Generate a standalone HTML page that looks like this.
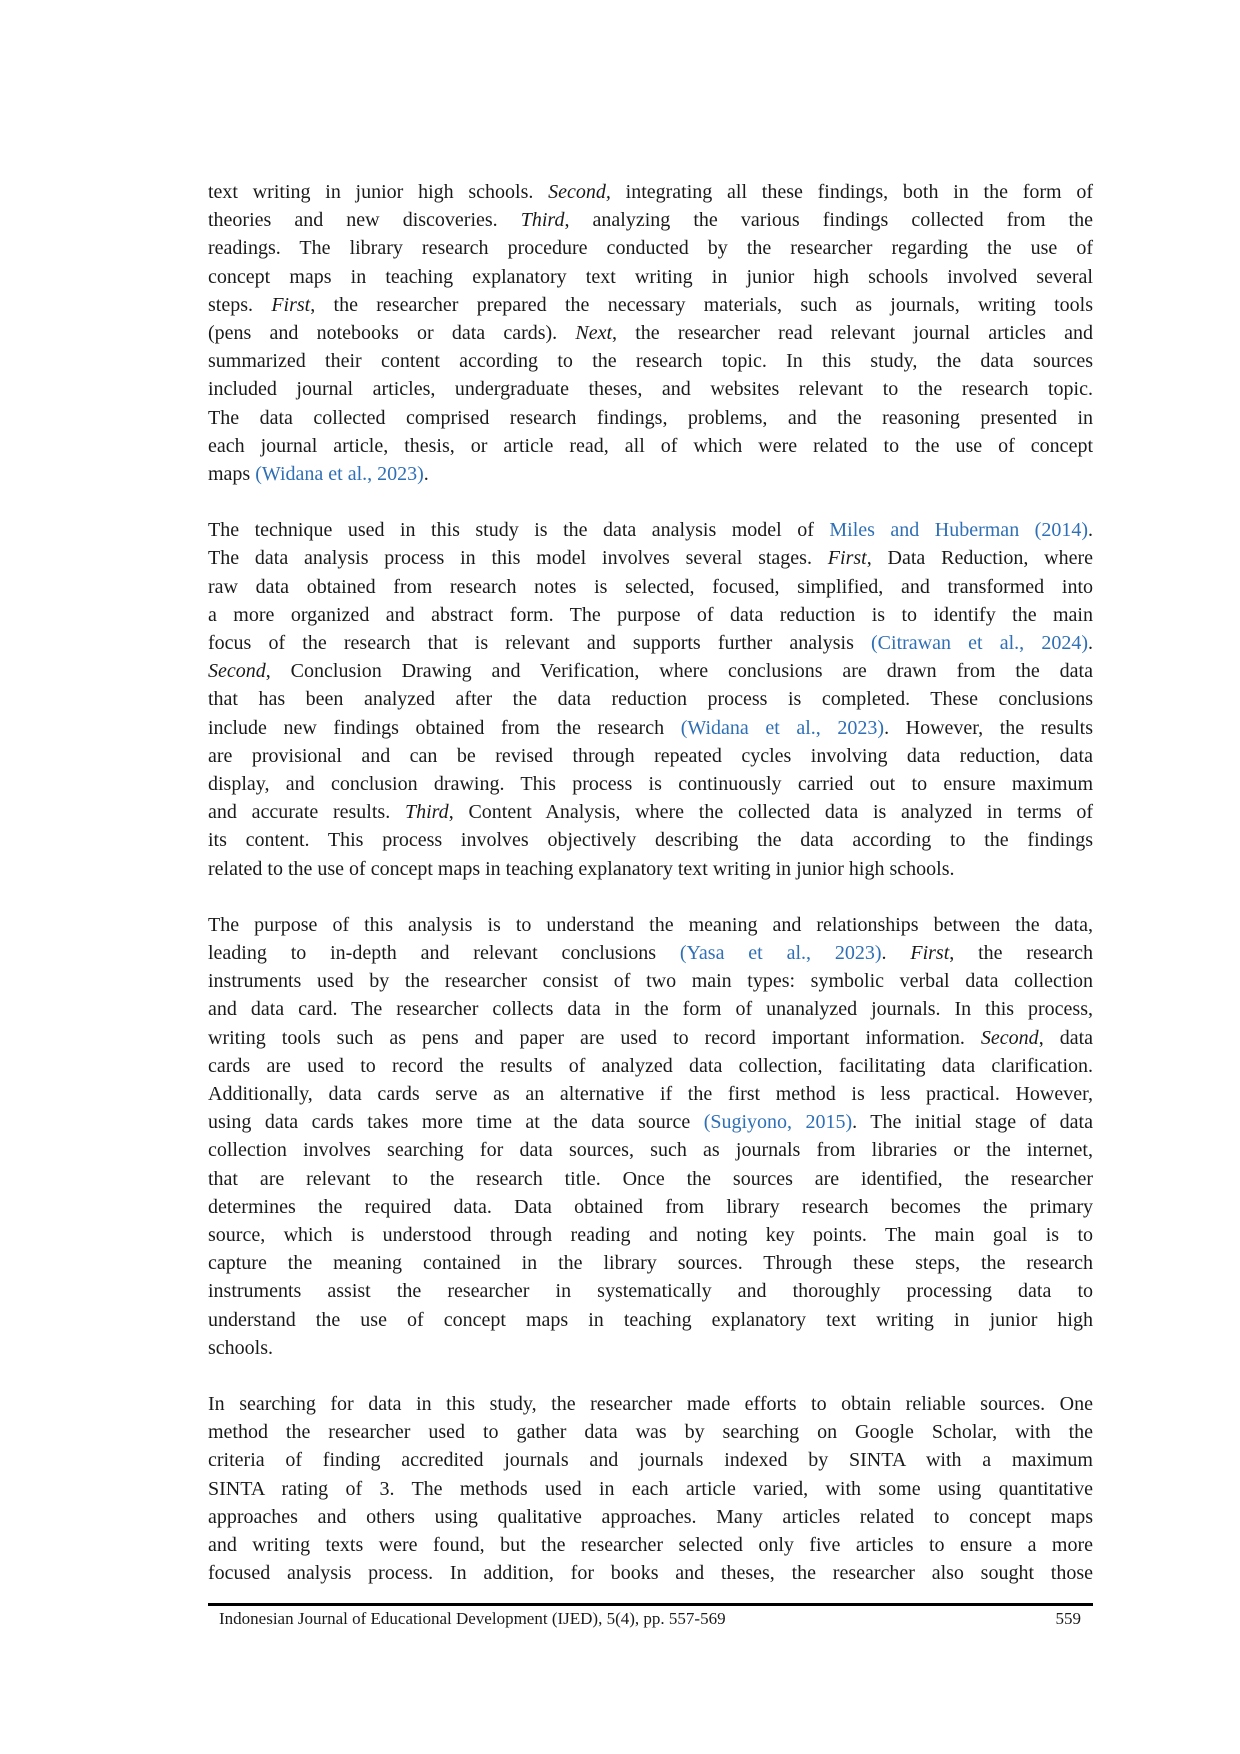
<!DOCTYPE html>
<html><head><meta charset="utf-8"><style>
html,body{margin:0;padding:0;background:#fff;}
body{width:1240px;height:1754px;position:relative;font-family:"Liberation Serif",serif;color:#1a1a1a;}
#t{position:absolute;left:208px;top:178px;width:885px;font-size:20px;}
.l{height:28.2px;line-height:28.2px;text-align:justify;text-align-last:justify;white-space:nowrap;}
.e{text-align-last:left;}
.b{height:28.2px;}
.c{color:#2f6fb5;}
#rule{position:absolute;left:208px;top:1603px;width:885px;height:3px;background:#000;}
#foot{position:absolute;left:219px;top:1609px;width:862px;font-size:17px;line-height:20px;}
#foot span{position:absolute;right:0;top:0;}
</style></head><body>
<div id="t">
<div class="l">text writing in junior high schools. <i>Second,</i> integrating all these findings, both in the form of</div>
<div class="l">theories and new discoveries. <i>Third</i>, analyzing the various findings collected from the</div>
<div class="l">readings. The library research procedure conducted by the researcher regarding the use of</div>
<div class="l">concept maps in teaching explanatory text writing in junior high schools involved several</div>
<div class="l">steps. <i>First</i>, the researcher prepared the necessary materials, such as journals, writing tools</div>
<div class="l">(pens and notebooks or data cards). <i>Next</i>, the researcher read relevant journal articles and</div>
<div class="l">summarized their content according to the research topic. In this study, the data sources</div>
<div class="l">included journal articles, undergraduate theses, and websites relevant to the research topic.</div>
<div class="l">The data collected comprised research findings, problems, and the reasoning presented in</div>
<div class="l">each journal article, thesis, or article read, all of which were related to the use of concept</div>
<div class="l e">maps <span class="c">(Widana et al., 2023)</span>.</div>
<div class="b"></div>
<div class="l">The technique used in this study is the data analysis model of <span class="c">Miles and Huberman (2014)</span>.</div>
<div class="l">The data analysis process in this model involves several stages. <i>First</i>, Data Reduction, where</div>
<div class="l">raw data obtained from research notes is selected, focused, simplified, and transformed into</div>
<div class="l">a more organized and abstract form. The purpose of data reduction is to identify the main</div>
<div class="l">focus of the research that is relevant and supports further analysis <span class="c">(Citrawan et al., 2024)</span>.</div>
<div class="l"><i>Second</i>, Conclusion Drawing and Verification, where conclusions are drawn from the data</div>
<div class="l">that has been analyzed after the data reduction process is completed. These conclusions</div>
<div class="l">include new findings obtained from the research <span class="c">(Widana et al., 2023)</span>. However, the results</div>
<div class="l">are provisional and can be revised through repeated cycles involving data reduction, data</div>
<div class="l">display, and conclusion drawing. This process is continuously carried out to ensure maximum</div>
<div class="l">and accurate results. <i>Third</i>, Content Analysis, where the collected data is analyzed in terms of</div>
<div class="l">its content. This process involves objectively describing the data according to the findings</div>
<div class="l e">related to the use of concept maps in teaching explanatory text writing in junior high schools.</div>
<div class="b"></div>
<div class="l">The purpose of this analysis is to understand the meaning and relationships between the data,</div>
<div class="l">leading to in-depth and relevant conclusions <span class="c">(Yasa et al., 2023)</span>. <i>First</i>, the research</div>
<div class="l">instruments used by the researcher consist of two main types: symbolic verbal data collection</div>
<div class="l">and data card. The researcher collects data in the form of unanalyzed journals. In this process,</div>
<div class="l">writing tools such as pens and paper are used to record important information. <i>Second</i>, data</div>
<div class="l">cards are used to record the results of analyzed data collection, facilitating data clarification.</div>
<div class="l">Additionally, data cards serve as an alternative if the first method is less practical. However,</div>
<div class="l">using data cards takes more time at the data source <span class="c">(Sugiyono, 2015)</span>. The initial stage of data</div>
<div class="l">collection involves searching for data sources, such as journals from libraries or the internet,</div>
<div class="l">that are relevant to the research title. Once the sources are identified, the researcher</div>
<div class="l">determines the required data. Data obtained from library research becomes the primary</div>
<div class="l">source, which is understood through reading and noting key points. The main goal is to</div>
<div class="l">capture the meaning contained in the library sources. Through these steps, the research</div>
<div class="l">instruments assist the researcher in systematically and thoroughly processing data to</div>
<div class="l">understand the use of concept maps in teaching explanatory text writing in junior high</div>
<div class="l e">schools.</div>
<div class="b"></div>
<div class="l">In searching for data in this study, the researcher made efforts to obtain reliable sources. One</div>
<div class="l">method the researcher used to gather data was by searching on Google Scholar, with the</div>
<div class="l">criteria of finding accredited journals and journals indexed by SINTA with a maximum</div>
<div class="l">SINTA rating of 3. The methods used in each article varied, with some using quantitative</div>
<div class="l">approaches and others using qualitative approaches. Many articles related to concept maps</div>
<div class="l">and writing texts were found, but the researcher selected only five articles to ensure a more</div>
<div class="l">focused analysis process. In addition, for books and theses, the researcher also sought those</div>
</div>
<div id="rule"></div>
<div id="foot">Indonesian Journal of Educational Development (IJED), 5(4), pp. 557-569<span>559</span></div>
</body></html>
